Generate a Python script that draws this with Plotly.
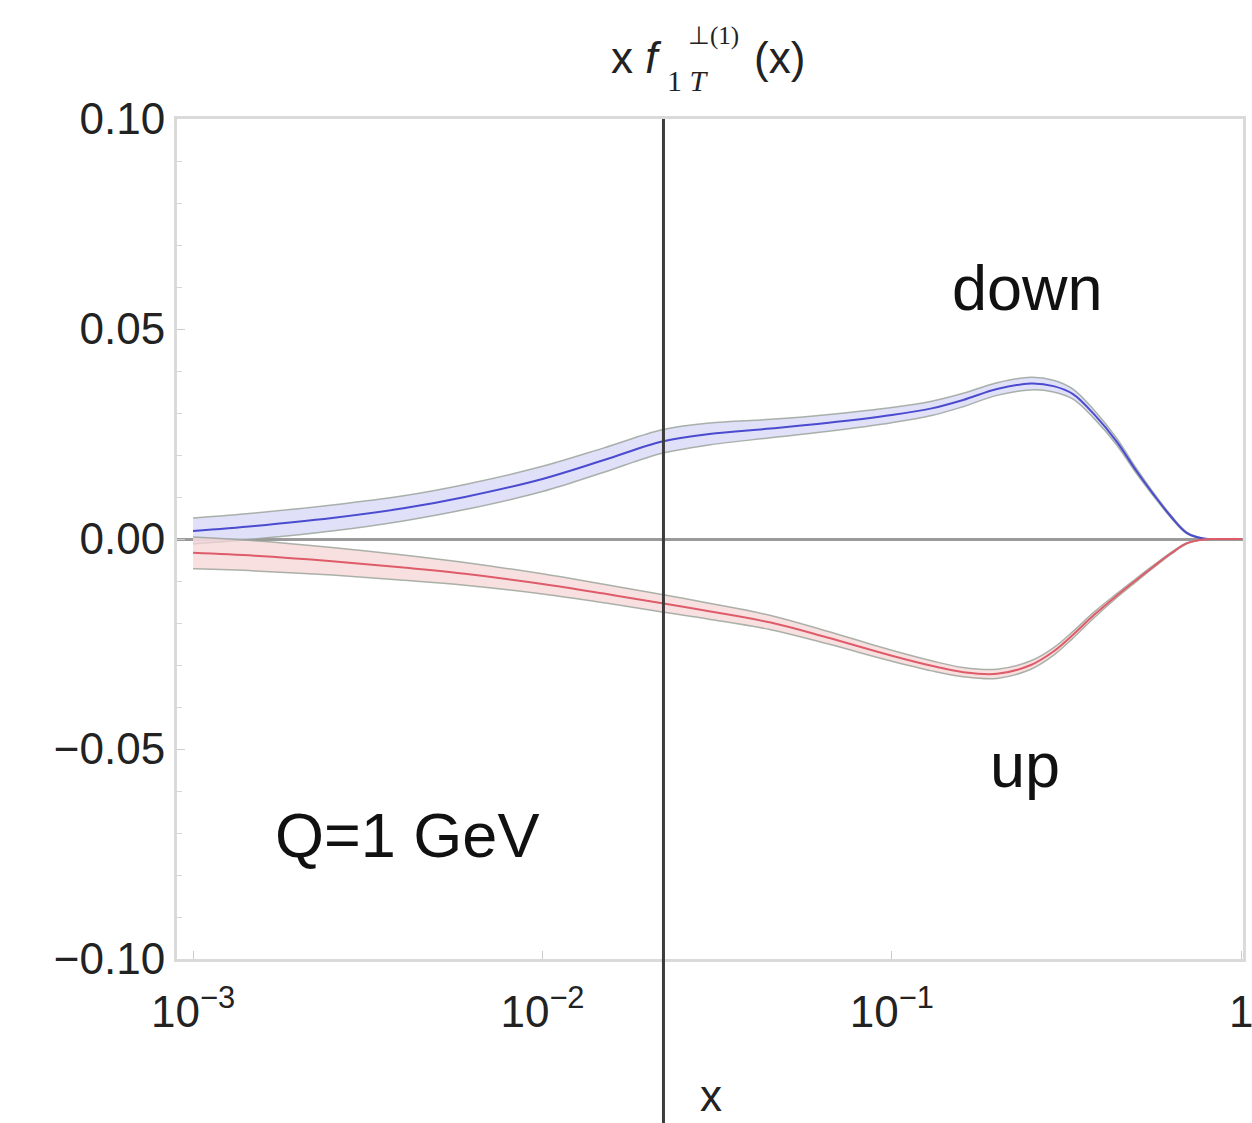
import plotly.graph_objects as go

# Sampling points in x (roughly log-spaced over 1e-3 .. 1)
x_vals = [0.001, 0.0015, 0.0025, 0.004, 0.006, 0.01, 0.015, 0.022, 0.03, 0.045,
          0.065, 0.1, 0.13, 0.16, 0.2, 0.25, 0.29, 0.33, 0.38, 0.44,
          0.5, 0.56, 0.63, 0.7, 0.78, 0.87, 1.0]

# down quark: central value and half-width of the uncertainty band
down_mid = [0.0019, 0.0031, 0.0050, 0.0073, 0.0100, 0.0143, 0.0188, 0.0232, 0.0250, 0.0263,
            0.0276, 0.0295, 0.0311, 0.0331, 0.0357, 0.0370, 0.0364, 0.0345, 0.0296, 0.0232,
            0.0163, 0.0107, 0.0053, 0.0014, 0.0001, 0.0, 0.0]
down_err = [0.0031, 0.0031, 0.0031, 0.0030, 0.0030, 0.0030, 0.0029, 0.0028, 0.0026, 0.0022,
            0.0020, 0.0018, 0.0017, 0.0016, 0.0015, 0.0015, 0.0014, 0.0012, 0.0010, 0.0008,
            0.0006, 0.0004, 0.0003, 0.0002, 0.0001, 0.0, 0.0]

# up quark: central value and half-width of the uncertainty band
up_mid = [-0.0033, -0.0040, -0.0053, -0.0068, -0.0083, -0.0107, -0.0130, -0.0153, -0.0172, -0.0199,
          -0.0234, -0.0278, -0.0302, -0.0317, -0.0321, -0.0300, -0.0268, -0.0228, -0.0180, -0.0135,
          -0.0098, -0.0066, -0.0034, -0.0010, -0.0001, 0.0, 0.0]
up_err = [0.0038, 0.0036, 0.0033, 0.0030, 0.0027, 0.0024, 0.0022, 0.0021, 0.0019, 0.0017,
          0.0015, 0.0013, 0.0012, 0.0011, 0.0011, 0.0010, 0.0009, 0.0008, 0.0007, 0.0005,
          0.0004, 0.0003, 0.0002, 0.0001, 0.0, 0.0, 0.0]

x_tickvals = [0.001, 0.01, 0.1, 1]
x_ticktext = ["10<sup>\u22123</sup>", "10<sup>\u22122</sup>", "10<sup>\u22121</sup>", "1"]
y_tickvals = [-0.10, -0.05, 0.0, 0.05, 0.10]

x_marker = 0.0222  # vertical reference line

fig = go.Figure()


def add_band(mid, err, fill, edge, line):
    lo = [m - e for m, e in zip(mid, err)]
    hi = [m + e for m, e in zip(mid, err)]
    fig.add_trace(go.Scatter(x=x_vals, y=lo, mode="lines",
                             line=dict(color=edge, width=1.5, shape="spline", smoothing=1.0),
                             hoverinfo="skip", showlegend=False))
    fig.add_trace(go.Scatter(x=x_vals, y=hi, mode="lines", fill="tonexty",
                             fillcolor=fill,
                             line=dict(color=edge, width=1.5, shape="spline", smoothing=1.0),
                             hoverinfo="skip", showlegend=False))
    fig.add_trace(go.Scatter(x=x_vals, y=mid, mode="lines",
                             line=dict(color=line, width=2.0, shape="spline", smoothing=1.0),
                             showlegend=False))


add_band(down_mid, down_err, "rgba(214,214,246,0.75)", "rgba(150,160,150,0.8)", "#4b4bd0")
add_band(up_mid, up_err, "rgba(246,214,214,0.75)", "rgba(150,160,150,0.8)", "#de5c6a")

fig.add_shape(type="line", xref="x", yref="paper", x0=x_marker, x1=x_marker,
              y0=-0.2, y1=1.0, line=dict(color="#3c3c3c", width=3))

tick_font = dict(family="Liberation Sans, Arial, sans-serif", size=44, color="#222222")

fig.update_xaxes(type="log", range=[-3.046, 0.005], automargin=False,
                 tickvals=x_tickvals, ticktext=x_ticktext, ticklabelstandoff=12,
                 ticklabeloverflow="allow",
                 ticks="inside", ticklen=8, tickcolor="#cccccc", tickwidth=1,
                 showline=True, linecolor="#dadada", linewidth=3, mirror=True,
                 showgrid=False, zeroline=False, tickfont=tick_font)
fig.update_yaxes(range=[-0.10, 0.10], automargin=False,
                 tickvals=y_tickvals, tickformat=".2f", ticklabeloverflow="allow",
                 ticks="inside", ticklen=8, tickcolor="#cccccc", tickwidth=1,
                 minor=dict(dtick=0.01, ticks="inside", ticklen=5, tickcolor="#d6d6d6"),
                 showline=True, linecolor="#dadada", linewidth=3, mirror=True,
                 showgrid=False, zeroline=True, zerolinecolor="#9a9a9a", zerolinewidth=3,
                 tickfont=tick_font)

label_font = dict(family="Liberation Sans, Arial, sans-serif", size=63, color="#111111")
title_font = dict(family="Liberation Sans, Arial, sans-serif", size=44, color="#222222")

annotations = [
    dict(text="down", x=0.7974, y=0.7988, font=label_font),
    dict(text="up", x=0.7955, y=0.231, font=label_font),
    dict(text="Q=1 GeV", x=0.2158, y=0.1476, font=label_font),
    dict(text="x", x=0.501, y=-0.162, font=title_font),
    # title: x f_{1T}^{⊥(1)} (x)
    dict(text="x <i>f</i>", x=0.4053, y=1.0738, xanchor="left", font=title_font),
    dict(text="1 <i>T</i>", x=0.4578, y=1.0464, xanchor="left",
         font=dict(family="Liberation Serif, Times New Roman, serif", size=30, color="#222222")),
    dict(text="\u22a5(1)", x=0.4775, y=1.0988, xanchor="left",
         font=dict(family="Liberation Serif, Times New Roman, serif", size=25, color="#222222")),
    dict(text="(x)", x=0.5394, y=1.0738, xanchor="left", font=title_font),
]
for a in annotations:
    a.setdefault("xanchor", "center")
    fig.add_annotation(xref="paper", yref="paper", yanchor="middle",
                       showarrow=False, **a)

fig.update_layout(width=1252, height=1123, autosize=False,
                  margin=dict(l=177, r=9, t=119, b=164),
                  paper_bgcolor="white", plot_bgcolor="white",
                  showlegend=False)

fig.write_html("out.html")
